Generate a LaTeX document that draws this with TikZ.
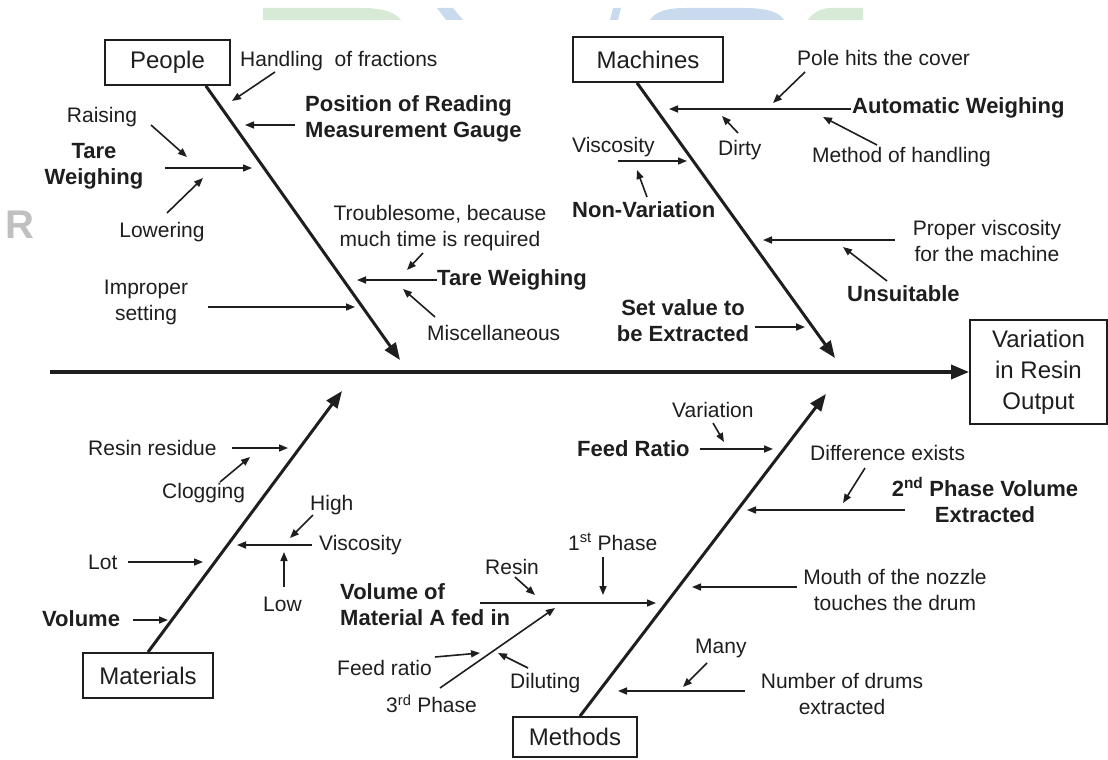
\documentclass[tikz,border=0pt]{standalone}
\usepackage{fontspec}
\setmainfont{Liberation Sans}
\usetikzlibrary{arrows.meta}
\definecolor{ink}{HTML}{1E1E1E}
\definecolor{wmgreen}{RGB}{214,234,214}
\definecolor{wmblue}{RGB}{201,217,238}
\definecolor{wmgray}{RGB}{192,192,192}

\begin{document}
\begin{tikzpicture}[x=1pt,y=-1pt,
  lbl/.style={text=ink, inner sep=0pt, align=center, font=\fontsize{21}{26}\selectfont},
  blbl/.style={text=ink, inner sep=0pt, align=center, font=\fontsize{22}{26}\selectfont\bfseries},
  catbox/.style={draw=ink, line width=1.8pt, text=ink, inner sep=0pt,
    font=\fontsize{24}{31}\selectfont, align=center},
  bone/.style={draw=ink, line width=3pt, -{Triangle[length=17pt,width=13pt]}},
  spine/.style={draw=ink, line width=3.5pt, -{Triangle[length=18pt,width=14pt]}},
  sub/.style={draw=ink, line width=1.6pt, -{Triangle[length=9pt,width=7pt]}}
]
\useasboundingbox (0,0) rectangle (1108,760);
\fill[white] (0,0) rectangle (1108,760);

% faint lettering behind the chart
\fill[wmgreen] (263,20) -- (263,8) -- (362,8) .. controls (384,8) and (396,13) .. (401,20) -- cycle;
\fill[wmblue] (437,8) -- (453,8) -- (463,20) -- (446,20) -- cycle;
\fill[wmblue] (613,8) -- (621,8) -- (618,20) -- (610,20) -- cycle;
\fill[wmblue] (650,20) .. controls (656,11) and (668,8) .. (685,8) -- (745,8)
  .. controls (768,8) and (780,13) .. (784,20) -- cycle;
\fill[wmgreen] (808,20) .. controls (813,12) and (822,8) .. (832,8) -- (863,8) -- (863,20) -- cycle;
\node[text=wmgray, inner sep=0pt, font=\fontsize{40}{40}\selectfont\bfseries] (wmR) at (20,225) {R};

% category boxes and effect
\node[catbox, minimum width=125pt, minimum height=45pt] (people) at (167.5,62.5) {People};
\node[catbox, minimum width=150pt, minimum height=45pt] (machines) at (648,59.5) {Machines};
\node[catbox, minimum width=130pt, minimum height=45pt] (materials) at (148,675.5) {Materials};
\node[catbox, minimum width=124pt, minimum height=40pt] (methods) at (575,737) {Methods};
\node[catbox, minimum width=137pt, minimum height=104pt] (effect) at (1038.5,372) {Variation\\in Resin\\Output};

% spine and main bones
\coordinate (spineStart) at (50,372);
\coordinate (pplTip) at (400,360);
\coordinate (machTip) at (835,358);
\coordinate (matTip) at (342,391);
\coordinate (methTip) at (826,394);
\draw[spine] (spineStart) -- (effect.west);
\draw[bone] ([xshift=-25pt]people.south east) -- (pplTip);
\draw[bone] ([xshift=-11pt]machines.south) -- (machTip);
\draw[bone] (materials.north) -- (matTip);
\draw[bone] ([xshift=5pt]methods.north) -- (methTip);

% ---------- People ----------
\node[lbl, anchor=west] (handling) at (240,61) {Handling\ \ of fractions};
\node[blbl, anchor=west, align=left] (posgauge) at (305,119) {Position of Reading\\Measurement Gauge};
\node[blbl] (tareA) at (94,166) {Tare\\Weighing};
\node[lbl] (raising) at (102,117) {Raising};
\node[lbl] (lowering) at (162,232) {Lowering};
\node[lbl] (trouble) at (440,228) {Troublesome, because\\much time is required};
\node[blbl, anchor=west] (tareB) at (437,280) {Tare Weighing};
\node[lbl, anchor=west] (misc) at (427,333) {Miscellaneous};
\node[lbl] (improper) at (146,302) {Improper\\setting};

\coordinate (hS) at (275,72);  \coordinate (hT) at (232,101);
\coordinate (pS) at (295,125); \coordinate (pT) at (245,125);
\coordinate (twS) at (165,168); \coordinate (twT) at (252,168);
\coordinate (rS) at (151,125); \coordinate (rT) at (187,157);
\coordinate (lS) at (167,213); \coordinate (lT) at (203,178);
\coordinate (tS) at (423,253); \coordinate (tT) at (407,270);
\coordinate (tbT) at (357,280);
\coordinate (mS) at (435,317); \coordinate (mT) at (403,289);
\coordinate (iS) at (208,307); \coordinate (iT) at (355,307);
\draw[sub] (hS) -- (hT);
\draw[sub] (pS) -- (pT);
\draw[sub] (twS) -- (twT);
\draw[sub] (rS) -- (rT);
\draw[sub] (lS) -- (lT);
\draw[sub] (tS) -- (tT);
\draw[sub] (tareB.west) -- (tbT);
\draw[sub] (mS) -- (mT);
\draw[sub] (iS) -- (iT);

% ---------- Machines ----------
\node[lbl, anchor=west] (pole) at (797,58) {Pole hits the cover};
\node[blbl, anchor=west] (autoW) at (852,108) {Automatic Weighing};
\node[lbl, anchor=west] (methodH) at (812,157) {Method of handling};
\node[lbl, anchor=west] (dirty) at (718,150) {Dirty};
\node[lbl, anchor=west] (viscA) at (572,147) {Viscosity};
\node[blbl, anchor=west] (nonvar) at (572,210) {Non-Variation};
\node[lbl] (proper) at (987,241) {Proper viscosity\\for the machine};
\node[blbl, anchor=west] (unsuit) at (847,294) {Unsuitable};
\node[blbl] (setval) at (683,321) {Set value to\\be Extracted};

\coordinate (awS) at (851,109); \coordinate (awT) at (669,109);
\coordinate (poS) at (805,72); \coordinate (poT) at (773,103);
\coordinate (mhS) at (877,145); \coordinate (mhT) at (823,117);
\coordinate (dS) at (738,133); \coordinate (dT) at (722,116);
\coordinate (vS) at (618,161); \coordinate (vT) at (687,161);
\coordinate (nvS) at (647,197); \coordinate (nvT) at (637,170);
\coordinate (prS) at (895,240); \coordinate (prT) at (763,240);
\coordinate (uS) at (887,281); \coordinate (uT) at (843,247);
\coordinate (svS) at (755,327); \coordinate (svT) at (805,327);
\draw[sub] (awS) -- (awT);
\draw[sub] (poS) -- (poT);
\draw[sub] (mhS) -- (mhT);
\draw[sub] (dS) -- (dT);
\draw[sub] (vS) -- (vT);
\draw[sub] (nvS) -- (nvT);
\draw[sub] (prS) -- (prT);
\draw[sub] (uS) -- (uT);
\draw[sub] (svS) -- (svT);

% ---------- Materials ----------
\node[lbl, anchor=west] (resres) at (88,448) {Resin residue};
\node[lbl, anchor=west] (clog) at (162,493) {Clogging};
\node[lbl, anchor=west] (lot) at (88,562) {Lot};
\node[blbl, anchor=west] (volume) at (42,619) {Volume};
\node[lbl, anchor=west] (viscB) at (319,545) {Viscosity};
\node[lbl, anchor=west] (high) at (310,505) {High};
\node[lbl, anchor=west] (low) at (263,604) {Low};

\coordinate (rrS) at (232,448); \coordinate (rrT) at (288,448);
\coordinate (cS) at (220,482); \coordinate (cT) at (250,457);
\coordinate (loS) at (128,562); \coordinate (loT) at (203,562);
\coordinate (voS) at (133,620); \coordinate (voT) at (168,620);
\coordinate (vbS) at (312,545); \coordinate (vbT) at (237,545);
\coordinate (hiS) at (313,515); \coordinate (hiT) at (290,538);
\coordinate (lwS) at (284,587); \coordinate (lwT) at (284,552);
\draw[sub] (rrS) -- (rrT);
\draw[sub] (cS) -- (cT);
\draw[sub] (loS) -- (loT);
\draw[sub] (voS) -- (voT);
\draw[sub] (vbS) -- (vbT);
\draw[sub] (hiS) -- (hiT);
\draw[sub] (lwS) -- (lwT);

% ---------- Methods ----------
\node[lbl, anchor=west] (variation) at (672,410) {Variation};
\node[blbl, anchor=west] (feedR) at (577,449) {Feed Ratio};
\node[lbl, anchor=west] (diff) at (810,453) {Difference exists};
\node[blbl] (phaseB) at (985,500) {2\textsuperscript{nd} Phase Volume\\Extracted};
\node[lbl] (mouth) at (895,590) {Mouth of the nozzle\\touches the drum};
\node[lbl, anchor=west] (many) at (695,648) {Many};
\node[lbl] (ndrums) at (842,694) {Number of drums\\extracted};
\node[lbl, anchor=west] (phaseA) at (568,542) {1\textsuperscript{st} Phase};
\node[lbl, anchor=west] (resin) at (485,567) {Resin};
\node[blbl, anchor=west, align=left] (volA) at (340,605) {Volume of\\Material A fed in};
\node[lbl, anchor=west] (phaseC) at (386,704) {3\textsuperscript{rd} Phase};
\node[lbl, anchor=west] (feedr) at (337,668) {Feed ratio};
\node[lbl, anchor=west] (dilut) at (510,683) {Diluting};

\coordinate (vaS) at (713,423); \coordinate (vaT) at (724,442);
\coordinate (frS) at (700,449); \coordinate (frT) at (773,449);
\coordinate (deS) at (865,468); \coordinate (deT) at (843,503);
\coordinate (pbS) at (905,510); \coordinate (pbT) at (747,510);
\coordinate (moS) at (797,587); \coordinate (moT) at (692,587);
\coordinate (maS) at (707,663); \coordinate (maT) at (683,687);
\coordinate (ndS) at (745,691); \coordinate (ndT) at (618,691);
\coordinate (paS) at (603,557); \coordinate (paT) at (603,595);
\coordinate (reS) at (515,577); \coordinate (reT) at (535,595);
\coordinate (vmS) at (480,603); \coordinate (vmT) at (656,603);
\coordinate (pcS) at (440,688); \coordinate (pcT) at (555,608);
\coordinate (fS) at (435,657); \coordinate (fT) at (480,653);
\coordinate (diS) at (528,668); \coordinate (diT) at (498,653);
\draw[sub] (vaS) -- (vaT);
\draw[sub] (frS) -- (frT);
\draw[sub] (deS) -- (deT);
\draw[sub] (pbS) -- (pbT);
\draw[sub] (moS) -- (moT);
\draw[sub] (maS) -- (maT);
\draw[sub] (ndS) -- (ndT);
\draw[sub] (paS) -- (paT);
\draw[sub] (reS) -- (reT);
\draw[sub] (vmS) -- (vmT);
\draw[sub] (pcS) -- (pcT);
\draw[sub] (fS) -- (fT);
\draw[sub] (diS) -- (diT);
\end{tikzpicture}
\end{document}
